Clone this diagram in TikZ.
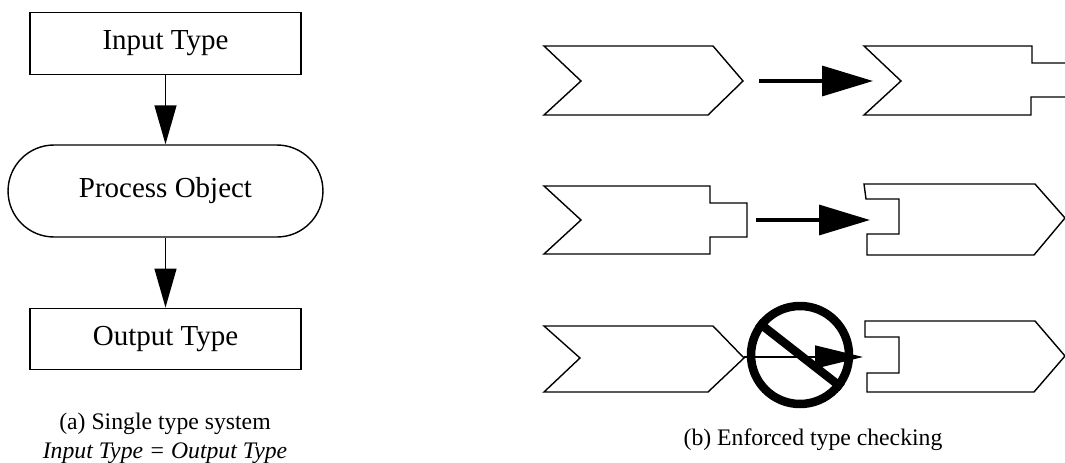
\documentclass[tikz,border=0pt]{standalone}
\usepackage{fontspec}
\setmainfont{Liberation Serif}
\usetikzlibrary{arrows.meta}

\begin{document}
\begin{tikzpicture}[x=0.02cm, y=-0.02cm,
  every node/.style={font=\fontsize{16.5}{20}\selectfont},
  typebox/.style={draw, line width=0.8pt, minimum width=5.42cm, minimum height=1.23cm, inner sep=0pt},
  procbox/.style={draw, line width=0.8pt, rounded corners=0.92cm, minimum width=6.3cm, minimum height=1.84cm, inner sep=0pt},
  flowarrow/.style={line width=0.8pt, -{Triangle[length=0.78cm, width=0.44cm]}},
  piece/.style={line width=0.8pt, line join=miter},
  linkarrow/.style={line width=1.9pt, -{Triangle[length=1.02cm, width=0.6cm]}},
  thinarrow/.style={line width=0.8pt, -{Triangle[length=0.96cm, width=0.46cm]}},
  nosign/.style={circle, draw, line width=0.17cm, minimum size=1.96cm, inner sep=0pt},
  caption/.style={font=\fontsize{13.5}{16.4}\selectfont, align=center}]
  \useasboundingbox (0,0) rectangle (1065,463);

  \node[typebox] (input) at (165.5,43.5) {Input Type};
  \node[procbox] (proc) at (165.5,191) {Process Object};
  \node[typebox] (output) at (165.5,339) {Output Type};
  \draw[flowarrow] (input.south) -- (proc.north);
  \draw[flowarrow] (proc.south) -- (output.north);
  \node[caption] (capa) at (165,438) {(a) Single type system\\\textit{Input Type = Output Type}};

  \draw[piece] (544,46) -- (581,81) -- (544,115) -- (708,115) -- (743,81) -- (713,46) -- cycle;
  \draw[piece] (1065,63) -- (1032,63) -- (1032,46) -- (864,46) -- (901,81) -- (864,115) -- (1031,115) -- (1031,97) -- (1065,97);
  \coordinate (out1) at (743,81);
  \coordinate (in1) at (873,81);
  \draw[linkarrow, shorten <=0.32cm] (out1) -- (in1);

  \draw[piece] (544,186) -- (581,220) -- (544,254) -- (710,254) -- (710,237) -- (747,237) -- (747,203) -- (710,203) -- (710,186) -- cycle;
  \draw[piece] (864,184) -- (866,199) -- (899,199) -- (899,234) -- (867,234) -- (867,255) -- (1034,255) -- (1065,218) -- (1035,184) -- cycle;
  \coordinate (out2) at (747,220);
  \coordinate (in2) at (870,220);
  \draw[linkarrow, shorten <=0.18cm] (out2) -- (in2);

  \draw[piece] (544,326) -- (580,358) -- (544,392) -- (708,392) -- (744,358) -- (713,326) -- cycle;
  \draw[piece] (865,321) -- (865,337) -- (899,337) -- (899,373) -- (867,373) -- (867,392) -- (1034,392) -- (1065,356) -- (1035,321) -- cycle;
  \coordinate (out3) at (744,357);
  \coordinate (in3) at (863,357);
  \draw[thinarrow] (out3) -- (in3);
  \node[nosign] (forbid) at (800,355) {};
  \draw[line width=0.17cm] (forbid.142) -- (forbid.-38);
  \node[caption] (capb) at (813,440) {(b) Enforced type checking};
\end{tikzpicture}
\end{document}
